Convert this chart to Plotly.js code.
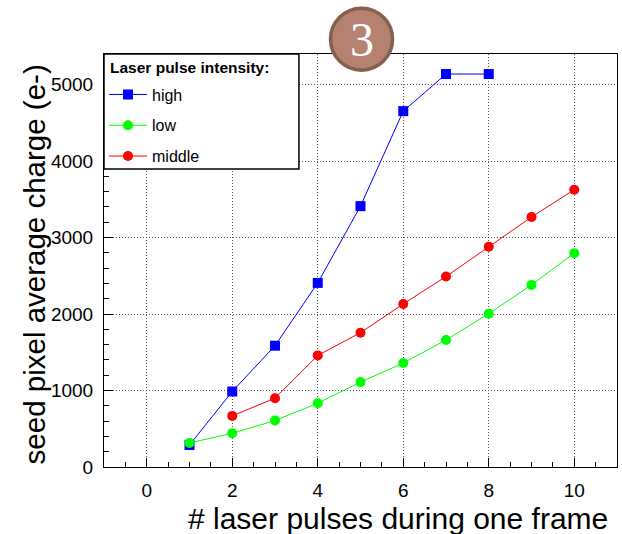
<!DOCTYPE html>
<html>
<head>
<meta charset="utf-8">
<script src="https://cdn.plot.ly/plotly-3.0.1.min.js"></script>
<style>html,body{margin:0;padding:0;background:#fff;}#chart{width:622px;height:534px;}</style>
</head>
<body>
<div id="chart"></div>
<script>
// Data
const xHigh = [1, 2, 3, 4, 5, 6, 7, 8];
const yHigh = [288, 987, 1586, 2407, 3411, 4653, 5138, 5138];
const xLow = [1, 2, 3, 4, 5, 6, 7, 8, 9, 10];
const yLow = [315, 441, 607, 834, 1110, 1359, 1660, 2005, 2381, 2796];
const xMiddle = [2, 3, 4, 5, 6, 7, 8, 9, 10];
const yMiddle = [668, 900, 1459, 1756, 2132, 2490, 2879, 3268, 3626];
const seriesNames = ['high', 'low', 'middle'];
const legendTitle = 'Laser pulse intensity:';
const xTitle = '# laser pulses during one frame';
const yTitle = 'seed pixel average charge (e-)';
const badge = '3';

const font = 'Liberation Sans, Arial, sans-serif';

const traces = [
  {x: xHigh, y: yHigh, name: seriesNames[0], legendgroup: 'a', mode: 'lines+markers', type: 'scatter',
   line: {color: '#0000ff', width: 1}, marker: {symbol: 'square', size: 10, color: '#0000ff'}},
  {x: xLow, y: yLow, name: seriesNames[1], legendgroup: 'b', mode: 'lines+markers', type: 'scatter',
   line: {color: '#00ff00', width: 1}, marker: {symbol: 'circle', size: 10, color: '#00ff00'}},
  {x: xMiddle, y: yMiddle, name: seriesNames[2], legendgroup: 'c', mode: 'lines+markers', type: 'scatter',
   line: {color: '#ff0000', width: 1}, marker: {symbol: 'circle', size: 10, color: '#ff0000'}}
];

const axisCommon = {
  showline: true, linecolor: '#000', linewidth: 1, mirror: true,
  ticks: 'inside', ticklen: 9, tickcolor: '#000', tickwidth: 1,
  showgrid: true, gridcolor: '#555', gridwidth: 1, griddash: '1px,2px',
  zeroline: false, tickfont: {family: font, size: 19, color: '#000'}
};

const layout = {
  width: 622, height: 534,
  margin: {l: 104, r: 5, t: 54, b: 67},
  paper_bgcolor: '#fff', plot_bgcolor: '#fff',
  showlegend: true,
  xaxis: Object.assign({}, axisCommon, {
    range: [-1, 11], tick0: 0, dtick: 2,
    minor: {dtick: 0.5, tick0: 0, ticks: 'inside', ticklen: 5, tickcolor: '#000', showgrid: false},
    ticklabelstandoff: 6
  }),
  yaxis: Object.assign({}, axisCommon, {
    range: [0, 5400], tick0: 0, dtick: 1000,
    minor: {dtick: 200, tick0: 0, ticks: 'inside', ticklen: 5, tickcolor: '#000', showgrid: false},
    ticklabelstandoff: 6
  }),
  legend: {
    x: 0.0, y: 0.943, xanchor: 'left', yanchor: 'top',
    bgcolor: 'rgba(0,0,0,0)', borderwidth: 0, itemwidth: 38,
    font: {family: font, size: 16, color: '#000'},
    tracegroupgap: 7
  },
  shapes: [
    {type: 'rect', xref: 'paper', yref: 'paper', x0: 0, x1: 0.380, y0: 0.7215, y1: 1,
     fillcolor: '#fff', line: {color: '#000', width: 1.5}, layer: 'above'},
    {type: 'circle', xref: 'paper', yref: 'paper', xsizemode: 'pixel', ysizemode: 'pixel',
     xanchor: 0.502, yanchor: 1.036, x0: -31, x1: 31, y0: -31, y1: 31,
     fillcolor: '#b5826f', line: {color: '#85604f', width: 3.5}, layer: 'above'}
  ],
  annotations: [
    {text: '<b>' + legendTitle + '</b>', xref: 'paper', yref: 'paper', x: 0.0078, y: 0.9685,
     xanchor: 'left', yanchor: 'middle', showarrow: false,
     font: {family: font, size: 15.5, color: '#000'}},
    {text: badge, xref: 'paper', yref: 'paper', x: 0.502, y: 1.036, xanchor: 'center', yanchor: 'middle',
     showarrow: false, font: {family: 'Liberation Serif, Times New Roman, serif', size: 48, color: '#fff'}},
    {text: xTitle, xref: 'paper', yref: 'paper', x: 0.986, y: -0.124, xanchor: 'right', yanchor: 'middle',
     showarrow: false, font: {family: font, size: 30, color: '#000'}},
    {text: yTitle, xref: 'paper', yref: 'paper', x: -0.135, y: 0.49, xanchor: 'center', yanchor: 'middle',
     textangle: -90, showarrow: false, font: {family: font, size: 29.5, color: '#000'}}
  ]
};

Plotly.newPlot('chart', traces, layout, {displayModeBar: false, staticPlot: true});
</script>
</body>
</html>
